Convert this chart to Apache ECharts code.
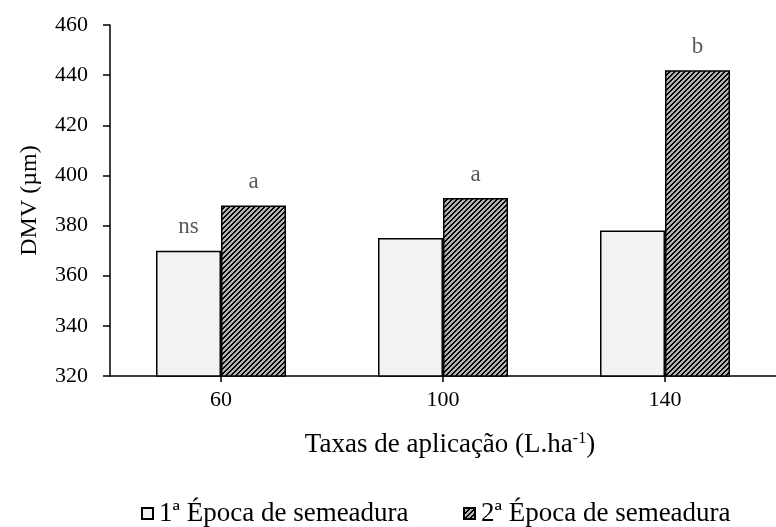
<!DOCTYPE html>
<html>
<head>
<meta charset="utf-8">
<script src="https://cdn.jsdelivr.net/npm/echarts@6/dist/echarts.min.js"></script>
<style>
  html, body { margin: 0; padding: 0; background: #fff; }
  #chart { width: 776px; height: 527px; }
</style>
</head>
<body>
<div id="chart"></div>
<script>
// Application rates (L/ha) on the category axis
const categories = ['60', '100', '140'];
// Volume median diameter (µm) for each sowing season
const firstSeason = [370, 375, 378];
const secondSeason = [388, 391, 442];
// Significance letters above the bars
const firstLetters = ['ns', '', ''];
const secondLetters = ['a', 'a', 'b'];
// Value axis ticks
const yTicks = [320, 340, 360, 380, 400, 420, 440, 460];

const seriesNames = ['1ª Época de semeadura', '2ª Época de semeadura'];
const FONT = '"Liberation Serif", "Times New Roman", serif';

// Upward diagonal hatch tile: black stripes on grey
function hatchTile() {
  const n = 5;
  const c = document.createElement('canvas');
  c.width = n; c.height = n;
  const ctx = c.getContext('2d');
  ctx.fillStyle = '#b0b0b0';
  ctx.fillRect(0, 0, n, n);
  ctx.fillStyle = '#000000';
  for (let x = 0; x < n; x++) {
    for (let y = 0; y < n; y++) {
      if ((x + y) % n < 2) ctx.fillRect(x, y, 1, 1);
    }
  }
  return c;
}
const hatch = { image: hatchTile(), repeat: 'repeat' };

const chart = echarts.init(document.getElementById('chart'), null, { renderer: 'canvas' });

const letterLabel = (letters) => ({
  show: true,
  position: 'top',
  distance: 12,
  color: '#595959',
  fontFamily: FONT,
  fontSize: 23,
  formatter: (p) => letters[p.dataIndex]
});

const legendText = { fontFamily: FONT, fontSize: 27, color: '#000', padding: [0, 0, 0, 1] };

chart.setOption({
  animation: false,
  backgroundColor: '#ffffff',
  textStyle: { fontFamily: FONT },
  grid: { left: 110, top: 25, width: 672, height: 351, containLabel: false },
  legend: [
    {
      data: [seriesNames[0]],
      left: 141, top: 500, padding: 0,
      itemWidth: 11, itemHeight: 11, itemGap: 0,
      icon: 'rect',
      textStyle: legendText
    },
    {
      data: [seriesNames[1]],
      left: 463, top: 500, padding: 0,
      itemWidth: 11, itemHeight: 11, itemGap: 0,
      icon: 'rect',
      textStyle: legendText
    }
  ],
  xAxis: {
    type: 'category',
    data: categories,
    name: 'Taxas de aplicação (L.ha{sup|-1})',
    nameLocation: 'middle',
    nameGap: 55,
    nameTextStyle: {
      fontFamily: FONT, fontSize: 27, color: '#000',
      padding: [0, 0, 0, 14],
      rich: { sup: { fontFamily: FONT, fontSize: 16, color: '#000', verticalAlign: 'top', padding: [0, 0, 11, 0] } }
    },
    axisLine: { lineStyle: { color: '#000', width: 1.5 } },
    axisTick: { show: true, alignWithLabel: true, length: 6, inside: false, lineStyle: { color: '#000', width: 1.5 } },
    axisLabel: { fontFamily: FONT, fontSize: 22, color: '#000', margin: 13 }
  },
  yAxis: {
    type: 'value',
    min: yTicks[0],
    max: yTicks[yTicks.length - 1],
    interval: yTicks[1] - yTicks[0],
    name: 'DMV (µm)',
    nameLocation: 'middle',
    nameGap: 68,
    nameRotate: 90,
    nameTextStyle: { fontFamily: FONT, fontSize: 24, color: '#000' },
    axisLine: { show: true, lineStyle: { color: '#000', width: 1.5 } },
    axisTick: { show: true, length: 7, lineStyle: { color: '#000', width: 1.5 } },
    axisLabel: { fontFamily: FONT, fontSize: 22, color: '#000', margin: 22 },
    splitLine: { show: false }
  },
  series: [
    {
      name: seriesNames[0],
      type: 'bar',
      data: firstSeason,
      barWidth: 65,
      barGap: '0%',
      itemStyle: { color: '#f2f2f2', borderColor: '#000', borderWidth: 1.5 },
      label: letterLabel(firstLetters)
    },
    {
      name: seriesNames[1],
      type: 'bar',
      data: secondSeason,
      barWidth: 65,
      barGap: '0%',
      itemStyle: { color: hatch, borderColor: '#000', borderWidth: 1.5 },
      label: letterLabel(secondLetters)
    }
  ]
});
</script>
</body>
</html>
